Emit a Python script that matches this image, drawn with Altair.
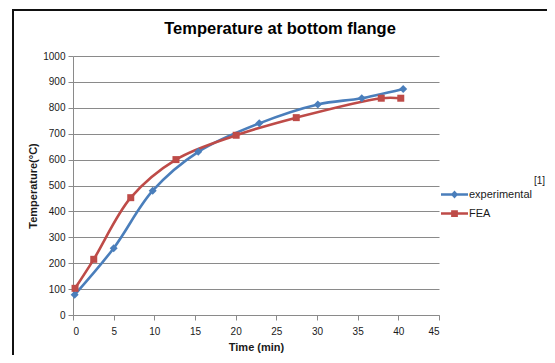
import altair as alt
import pandas as pd

# --- data ---
exp_time = [0.2, 5.0, 9.8, 15.4, 22.9, 30.1, 35.5, 40.6]
exp_temp = [78, 258, 480, 630, 740, 813, 837, 873]
fea_time = [0.25, 2.55, 7.1, 12.66, 20.06, 27.45, 37.9, 40.3]
fea_temp = [103, 215, 453, 600, 694, 762, 837, 837]
series_names = ["experimental", "FEA"]
series_colors = ["#4A7EBB", "#BE4B48"]
x_ticks = list(range(0, 50, 5))
y_ticks = list(range(0, 1100, 100))
chart_title = "Temperature at bottom flange"

rows = []
for t, v in zip(exp_time, exp_temp):
    rows.append({"series": series_names[0], "time": t, "temp": v})
for t, v in zip(fea_time, fea_temp):
    rows.append({"series": series_names[1], "time": t, "temp": v})
df = pd.DataFrame(rows)

FONT = "Liberation Sans"
TXT = "#1a1a1a"
GRID = "#8a8a8a"

x_enc = alt.X(
    "time:Q",
    scale=alt.Scale(domain=[0, 45], nice=False),
    axis=alt.Axis(
        values=x_ticks, title="Time (min)", grid=False, tickSize=5,
        labelPadding=6, titlePadding=5,
    ),
)
y_enc = alt.Y(
    "temp:Q",
    scale=alt.Scale(domain=[0, 1000], nice=False),
    axis=alt.Axis(
        values=y_ticks, format="d", title="Temperature(°C)", grid=True, tickSize=5,
        labelPadding=3, titlePadding=4,
    ),
)
color_scale = alt.Scale(domain=series_names, range=series_colors)

# legend symbols: a line with the marker on it
exp_path = "M-1,-0.09L1,-0.09L1,0.09L-1,0.09ZM-0.27,0L0,-0.3L0.27,0L0,0.3Z"
fea_path = "M-1,-0.09L1,-0.09L1,0.09L-1,0.09ZM-0.25,-0.25L0.25,-0.25L0.25,0.25L-0.25,0.25Z"


def make_legend():
    return alt.Legend(
        title=None, orient="none", legendX=368, legendY=125,
        symbolSize=729, rowPadding=-7, labelOffset=1,
        labelFont=FONT, labelFontSize=11, labelColor=TXT,
        symbolStrokeWidth=0, symbolOpacity=1,
    )


def series_layers(name, color, shape, size):
    base = alt.Chart(df).transform_filter(alt.datum.series == name)
    line = base.mark_line(interpolate="catmull-rom", strokeWidth=2.6, color=color).encode(
        x=x_enc, y=y_enc,
    )
    pts = base.mark_point(filled=True, opacity=1, shape=shape, size=size, color=color).encode(
        x=x_enc, y=y_enc,
    )
    return line, pts


line_exp, pts_exp = series_layers(series_names[0], series_colors[0], "diamond", 64)
line_fea, pts_fea = series_layers(series_names[1], series_colors[1], "square", 49)

legend_layer = alt.Chart(df).mark_point(filled=True, opacity=0, size=1).encode(
    x=x_enc, y=y_enc,
    color=alt.Color("series:N", scale=color_scale, legend=make_legend()),
    shape=alt.Shape("series:N", scale=alt.Scale(domain=series_names, range=[exp_path, fea_path]),
                    legend=make_legend()),
)

one = pd.DataFrame({"k": [0]})
border = alt.Chart(one).mark_rect(fill=None, stroke="#111111", strokeWidth=2).encode(
    x=alt.value(-60), x2=alt.value(490), y=alt.value(-46), y2=alt.value(320),
)
note = alt.Chart(one).mark_text(
    text="[1]", align="left", baseline="middle", font=FONT, fontSize=10, color=TXT
).encode(x=alt.value(461), y=alt.value(125))
title = alt.Chart(one).mark_text(
    text=chart_title, align="center", baseline="middle", font=FONT, fontSize=16.5,
    fontWeight="bold", color="#000000",
).encode(x=alt.value(207), y=alt.value(-27))

chart = alt.layer(border, line_exp, line_fea, pts_exp, pts_fea, legend_layer, note, title).properties(
    width=366, height=259,
    autosize=alt.AutoSizeParams(type="none"),
    padding={"left": 65, "top": 48, "right": 108, "bottom": 40},
    background="white",
).configure_view(stroke=None).configure_axis(
    labelFont=FONT, labelFontSize=10, labelColor=TXT,
    titleFont=FONT, titleFontSize=11, titleFontWeight="bold", titleColor=TXT,
    domainColor=GRID, tickColor=GRID, gridColor=GRID, gridOpacity=1,
)

chart.save("out.html", embed_options={"renderer": "svg", "actions": False})
